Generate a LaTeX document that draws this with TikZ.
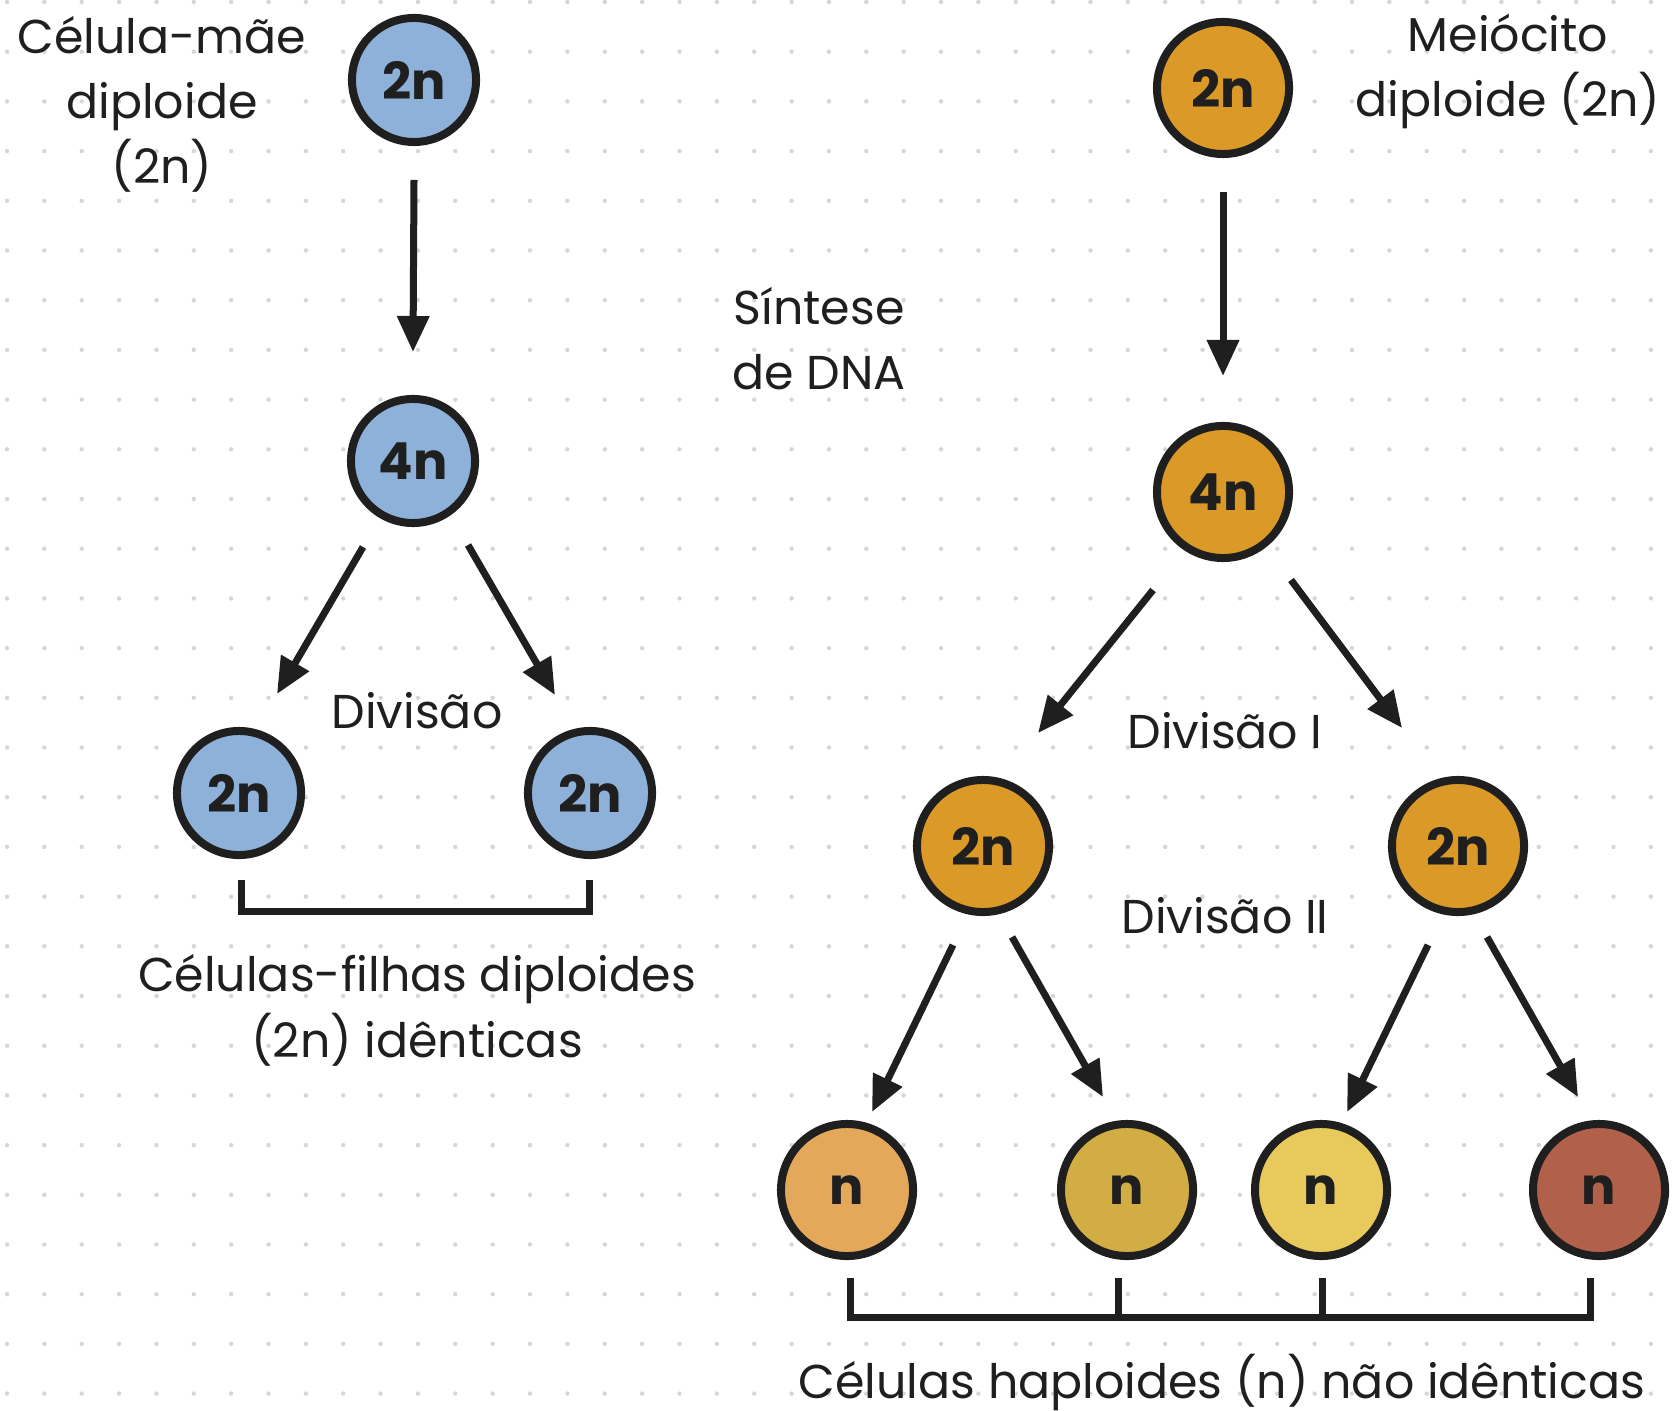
\documentclass[tikz,border=0pt]{standalone}
\usepackage{fontspec}
\setmainfont{Poppins}
\usetikzlibrary{arrows.meta,calc}
\definecolor{ink}{HTML}{1F1F1F}
\definecolor{dotc}{HTML}{D6D6D6}
\definecolor{cellblue}{HTML}{8EB1DA}
\definecolor{cellorange}{HTML}{DB9A28}
\definecolor{hapA}{HTML}{E4A85A}
\definecolor{hapB}{HTML}{D2AD44}
\definecolor{hapC}{HTML}{E7CA5B}
\definecolor{hapD}{HTML}{B1604A}
\begin{document}
\begin{tikzpicture}[x=0.01cm,y=-0.01cm,
  cell/.style={circle, draw=ink, line width=0.08cm, inner sep=0pt, text=ink,
    font=\fontsize{14.5}{16}\selectfont\bfseries},
  bluecell/.style={cell, fill=cellblue, minimum size=1.24cm},
  orangecell/.style={cell, fill=cellorange, minimum size=1.32cm},
  hapcell/.style={cell, minimum size=1.32cm},
  lbl/.style={font=\fontsize{13.5}{18.5}\selectfont, text=ink, align=center, anchor=base},
  arr/.style={draw=ink, line width=0.07cm, -{Triangle[length=0.36cm,width=0.31cm]}},
  brk/.style={draw=ink, line width=0.07cm, line join=miter}
]
% canvas and dotted grid
\fill[white] (0,0) rectangle (1674,1410);
\useasboundingbox (0,0) rectangle (1674,1410);
\foreach \i in {0,...,44}
  \foreach \j in {0,...,28}
    \fill[dotc] ({7+37.36*\i},{2+49.7*\j}) circle[radius=0.022cm];

% ---- mitosis ----
\node[bluecell] (b0) at (414,80) {2n};
\node[bluecell] (b4) at (413,461) {4n};
\node[bluecell] (bl) at (239,793) {2n};
\node[bluecell] (br) at (590,793) {2n};

\draw[arr] ($(b0)+(0,100)$) -- ($(b4)+(0,-109)$);
\draw[arr] ($(b4)+(-50,86)$) -- ($(bl)+(38,-99)$);
\draw[arr] ($(b4)+(55,84)$) -- ($(br)+(-35,-98)$);

\draw[brk] ($(bl)+(2,87)$) -- ($(bl)+(2,118)$) -- ($(br)+(-1,118)$) -- ($(br)+(-1,87)$);

% multi-line labels are placed by the baseline of their last line
\node[lbl] (tmae) at (162,184) {Célula-mãe\\diploide\\(2n)};
\node[lbl] (tdiv) at (417,728) {Divisão};
\node[lbl] (tfilhas) at (417,1057) {Células-filhas diploides\\(2n) idênticas};

% ---- meiosis ----
\node[orangecell] (o0) at (1223,88) {2n};
\node[orangecell] (o4) at (1223,492) {4n};
\node[orangecell] (ol) at (983,846) {2n};
\node[orangecell] (or) at (1458,846) {2n};
\node[hapcell, fill=hapA] (n1) at (847,1190) {n};
\node[hapcell, fill=hapB] (n2) at (1127,1190) {n};
\node[hapcell, fill=hapC] (n3) at (1321,1190) {n};
\node[hapcell, fill=hapD] (n4) at (1599,1190) {n};

\draw[arr] ($(o0)+(0,104)$) -- ($(o4)+(0,-116)$);
\draw[arr] ($(o4)+(-70,98)$) -- ($(ol)+(55,-113)$);
\draw[arr] ($(o4)+(68,88)$) -- ($(or)+(-56,-118)$);
\draw[arr] ($(ol)+(-30,99)$) -- ($(n1)+(25,-78)$);
\draw[arr] ($(ol)+(29,91)$) -- ($(n2)+(-24,-93)$);
\draw[arr] ($(or)+(-30,99)$) -- ($(n3)+(26,-78)$);
\draw[arr] ($(or)+(29,91)$) -- ($(n4)+(-21,-93)$);

\draw[brk] ($(n1)+(3,88)$) -- ($(n1)+(3,127)$) -- ($(n4)+(-9,127)$) -- ($(n4)+(-9,88)$);
\draw[brk] ($(n2)+(-9,88)$) -- ($(n2)+(-9,127)$);
\draw[brk] ($(n3)+(1,88)$) -- ($(n3)+(1,127)$);

\node[lbl] (tmeio) at (1508,117) {Meiócito\\diploide (2n)};
\node[lbl] (tsint) at (819,390) {Síntese\\de DNA};
\node[lbl] (tdiv1) at (1225,748) {Divisão I};
\node[lbl] (tdiv2) at (1225,933) {Divisão II};
\node[lbl] (thap) at (1222,1398) {Células haploides (n) não idênticas};
\end{tikzpicture}
\end{document}
